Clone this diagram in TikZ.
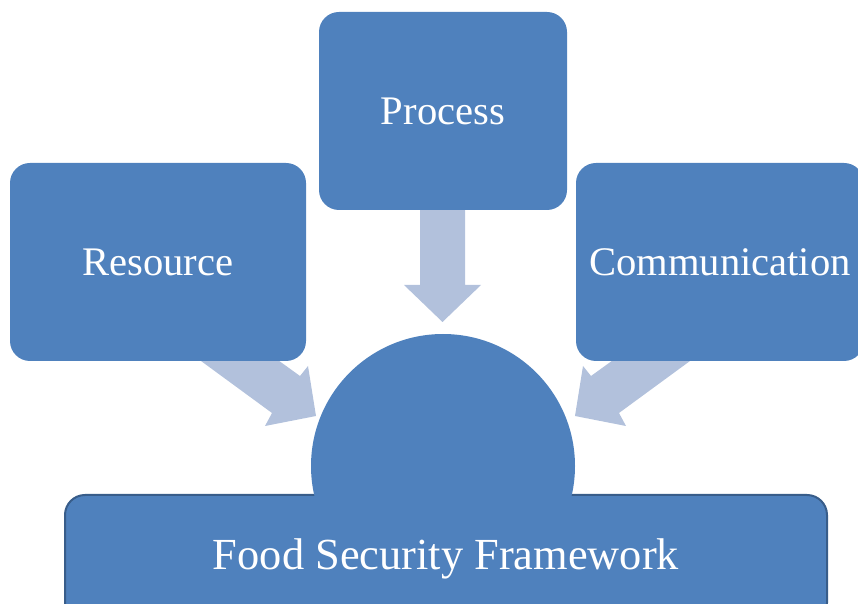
\documentclass[tikz,border=0pt]{standalone}
\usepackage{fontspec}
\setmainfont{Liberation Serif}
\newlength{\boxcornerradius}
\newlength{\topicboxheight}
\setlength{\boxcornerradius}{10pt}
\setlength{\topicboxheight}{99pt}
\definecolor{boxcolor}{RGB}{79,129,189}
\definecolor{boxbordercolor}{RGB}{56,93,138}
\definecolor{arrowcolor}{RGB}{178,193,220}
\tikzstyle{topicbox} = [fill=boxcolor, rounded corners=\boxcornerradius, minimum height=\topicboxheight, text=white, font=\fontsize{20.3}{24}\selectfont, inner sep=0]
\tikzstyle{blockarrow} = [fill=arrowcolor]
\tikzstyle{dome} = [circle, fill=boxcolor, minimum size=132pt, inner sep=0]

\begin{document}
\begin{tikzpicture}[x=0.5pt, y=-0.5pt]
	
	\useasboundingbox (0,0) rectangle (858,604);
	\clip (0,0) rectangle (858,604);
	
	% block arrows first, the boxes hide their tails
	\fill[blockarrow] (420,205) -- (420,285) -- (404,285) -- (442.5,322) -- (481,285) -- (465,285) -- (465,205) -- cycle;
	\fill[blockarrow] (186,350) -- (272,413) -- (265,426) -- (316,416) -- (308,366) -- (300,376) -- (264,350) -- cycle;
	\fill[blockarrow] (705,350) -- (619,413) -- (626,426) -- (575,416) -- (583,366) -- (591,376) -- (627,350) -- cycle;
	
	\node[topicbox, minimum width=124pt] (process) at (443,111) {Process};
	\node[topicbox, minimum width=148pt] (resource) at (158,262) {Resource};
	\node[topicbox, minimum width=144pt] (communication) at (720,262) {Communication};
	
	\node[topicbox, draw=boxbordercolor, line width=1pt, minimum width=381pt, minimum height=64pt, font=\fontsize{22.2}{26}\selectfont] (framework) at (446,559) {Food Security Framework};
	
	% only the part of the dome above the base box
	\begin{scope}
		\clip (0,0) rectangle (858,497);
		\node[dome] (frameworkdome) at (443,466) {};
	\end{scope}
	
\end{tikzpicture}
\end{document}
